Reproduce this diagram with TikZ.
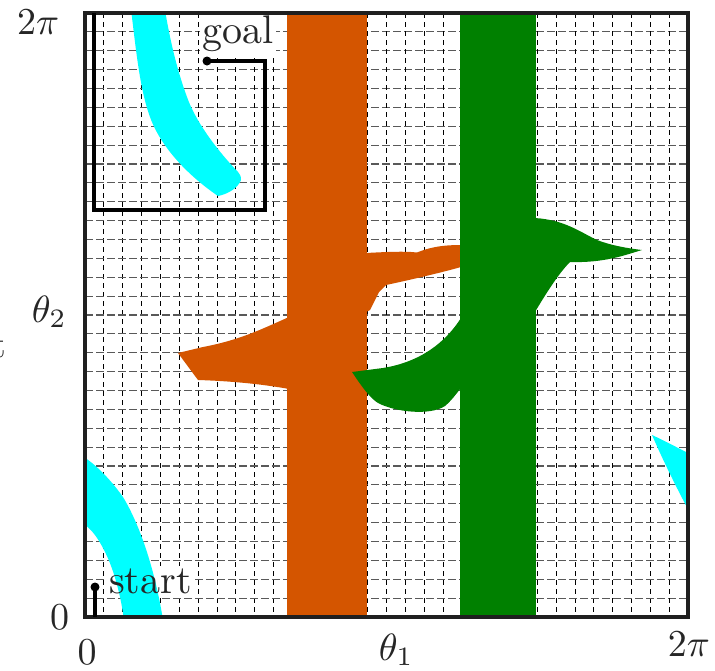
\documentclass[tikz,border=0pt]{standalone}
\definecolor{obsorange}{HTML}{D45500}
\definecolor{obsgreen}{HTML}{008000}
\definecolor{obscyan}{HTML}{00FFFF}
\pgfdeclarelayer{gridlayer}
\pgfdeclarelayer{boxlayer}
\pgfsetlayers{gridlayer,boxlayer,main}
\begin{document}
\begin{tikzpicture}[x=1pt,y=-1pt,
  lbl/.style={scale=3.8, inner sep=0pt, text=black!85},
  txtlbl/.style={scale=4.0, inner sep=0.5pt, text=black!85},
  vgrid/.style={black, line width=0.8pt, dash pattern=on 5pt off 4pt},
  hgrid/.style={black!65, line width=1.1pt, dash pattern=on 8pt off 3pt},
  framebox/.style={black!88, line width=3.6pt},
  pathline/.style={black, line width=4.5pt},
  dotmark/.style={circle, fill=black, inner sep=0pt, minimum size=9pt}]
\useasboundingbox (0,0) rectangle (715,670);
% grid
\begin{pgfonlayer}{gridlayer}
\fill[white] (0,0) rectangle (715,670);
\foreach \i in {1,...,31}{
  \draw[hgrid] (85,{13+\i*18.875}) -- (688,{13+\i*18.875});
  \draw[vgrid] ({85+\i*18.84375},13) -- ({85+\i*18.84375},617);
}
\end{pgfonlayer}
\begin{scope}
\clip (85,13) rectangle (688,617);
% orange obstacle
\fill[obsorange] (287.3,10) rectangle (367.3,620);
\fill[obsorange] (289,317) .. controls (262,329) and (240,340) .. (203,347) -- (178,353) -- (198,380)
  .. controls (230,381) and (262,384) .. (289,389) -- cycle;
\fill[obsorange] (366,253) .. controls (385,252) and (405,251) .. (417,252.5)
  .. controls (428,248) and (440,245) .. (461,245) -- (461,267)
  .. controls (440,273) and (405,281) .. (386,285) -- (379,292) -- (370,310) -- (366,312) -- cycle;
% green obstacle
\fill[obsgreen] (460,10) rectangle (535.7,620);
\fill[obsgreen] (461,318) .. controls (445,343) and (420,362) .. (383,368) -- (352,372)
  .. controls (362,387) and (370,398) .. (378,403)
  .. controls (395,412) and (430,416) .. (445,406)
  .. controls (452,400) and (456,394) .. (461,388) -- cycle;
\fill[obsgreen] (535,218) .. controls (565,220) and (580,232) .. (597,240)
  .. controls (610,245) and (625,248) .. (642,250)
  .. controls (625,255) and (605,263) .. (570,262)
  .. controls (560,272) and (548,290) .. (535,312) -- cycle;
% cyan obstacles
\fill[obscyan] (131.7,10) -- (131.7,15) .. controls (136,50) and (140,90) .. (150,117)
  .. controls (158,140) and (180,170) .. (218,196)
  .. controls (228,194) and (238,188) .. (241,180)
  .. controls (241,176) and (240,174) .. (238,172)
  .. controls (215,148) and (195,120) .. (187,97)
  .. controls (177,70) and (170,40) .. (165,10) -- cycle;
\fill[obscyan] (84,457) .. controls (100,468) and (113,483) .. (123,497)
  .. controls (140,525) and (155,570) .. (163,620) -- (124,620)
  .. controls (120,590) and (112,565) .. (104,550)
  .. controls (98,538) and (92,530) .. (84,524) -- cycle;
\fill[obscyan] (652,435) .. controls (665,441) and (678,448) .. (690,454) -- (690,513)
  .. controls (675,485) and (662,458) .. (652,435) -- cycle;
\end{scope}
% frame
\draw[framebox] (85,13) rectangle (688,617);
% path from start to goal (wrapping through the bottom/top edge)
\coordinate (start) at (95,587);
\coordinate (bot) at (95,617);
\coordinate (top) at (94,13);
\coordinate (c1) at (94,210);
\coordinate (c2) at (265,210);
\coordinate (c3) at (265,61);
\coordinate (goal) at (207,61);
\draw[pathline] (start) -- (bot);
\draw[pathline] (top) -- (c1) -- (c2) -- (c3) -- (goal);
\node[dotmark] (startdot) at (start) {};
\node[dotmark] (goaldot) at (goal) {};
% labels
\node[txtlbl, anchor=base west] (startlbl) at (106.3,593) {start};
\node[txtlbl, anchor=base west] (goallbl) at (199.7,43) {goal};
\begin{pgfonlayer}{boxlayer}
\fill[white] (startlbl.south west) rectangle (startlbl.north east);
\fill[white] (goallbl.south west) rectangle (goallbl.north east);
\end{pgfonlayer}
\node[lbl, anchor=base east] (ytop) at (60,34) {$2\pi$};
\node[lbl, anchor=base east] (yzero) at (70,629) {$0$};
\node[lbl, anchor=base west] (ylab) at (31,322) {$\theta_2$};
\node[lbl, anchor=base east] (ycut) at (7,357) {t};
\node[lbl, anchor=base] (xzero) at (87,664) {$0$};
\node[lbl, anchor=base west] (xlab) at (378,660) {$\theta_1$};
\node[lbl, anchor=base] (xend) at (689,656) {$2\pi$};
\end{tikzpicture}
\end{document}
